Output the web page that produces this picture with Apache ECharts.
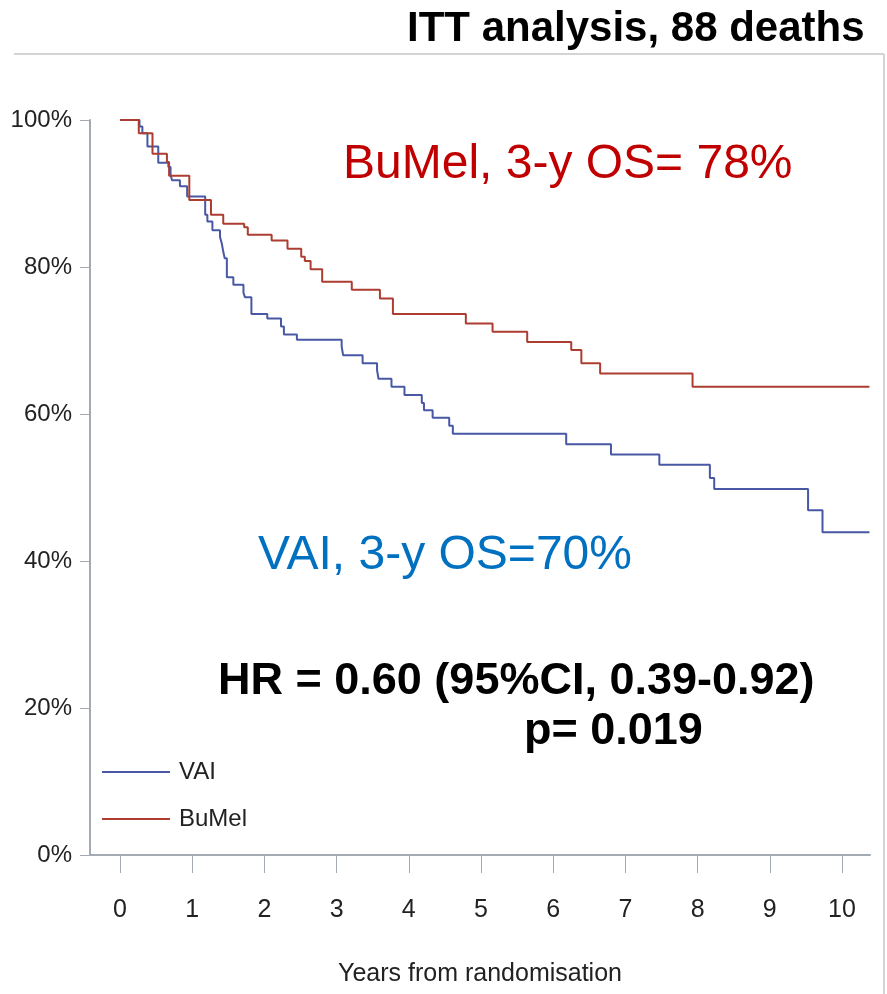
<!DOCTYPE html>
<html>
<head>
<meta charset="utf-8">
<script src="https://cdn.jsdelivr.net/npm/echarts@6/dist/echarts.min.js"></script>
<style>
html,body{margin:0;padding:0;background:#fff;}
#chart{width:887px;height:994px;}
</style>
</head>
<body>
<div id="chart"></div>
<script>
// Kaplan-Meier step data: [years, survival %] (value after each event)
const vaiTimes = [0, 0.27, 0.31, 0.38, 0.53, 0.67, 0.70, 0.72, 0.83, 0.93, 1.18, 1.21, 1.28, 1.385, 1.41, 1.43, 1.45, 1.48, 1.57, 1.71, 1.73, 1.82, 2.04, 2.23, 2.27, 2.45, 3.07, 3.09, 3.36, 3.56, 3.58, 3.76, 3.94, 4.18, 4.21, 4.33, 4.56, 4.61, 6.18, 6.80, 7.47, 8.17, 8.23, 9.53, 9.73, 10.38];
const vaiSurv  = [100, 99.1, 98.2, 96.4, 94.2, 93.6, 92.6, 91.8, 91.0, 89.6, 87.1, 86.2, 85.0, 84.1, 83.2, 82.1, 81.2, 78.6, 77.6, 76.5, 75.9, 73.6, 73.0, 71.9, 70.8, 70.1, 69.2, 68.0, 66.9, 66.0, 64.8, 63.7, 62.6, 61.5, 60.5, 59.5, 58.4, 57.3, 55.9, 54.5, 53.1, 51.3, 49.8, 46.9, 43.9, 43.9];

const bumelTimes = [0, 0.26, 0.45, 0.65, 0.68, 0.96, 1.26, 1.43, 1.72, 1.77, 2.10, 2.32, 2.51, 2.56, 2.64, 2.80, 3.21, 3.60, 3.78, 4.79, 5.16, 5.64, 6.25, 6.39, 6.65, 7.93, 10.38];
const bumelSurv  = [100, 98.2, 95.4, 94.3, 92.4, 89.1, 87.1, 85.9, 85.4, 84.4, 83.6, 82.5, 81.4, 80.8, 79.7, 78.0, 76.9, 75.7, 73.6, 72.3, 71.2, 69.8, 68.7, 66.9, 65.5, 63.7, 63.7];

const seriesNames = ['VAI', 'BuMel'];
const xTickValues = [0, 1, 2, 3, 4, 5, 6, 7, 8, 9, 10];
const xAxisTitle = 'Years from randomisation';
const titleText = 'ITT analysis, 88 deaths';
const bumelNote = 'BuMel, 3-y OS= 78%';
const vaiNote = 'VAI, 3-y OS=70%';
const hrNote = 'HR = 0.60 (95%CI, 0.39-0.92)';
const pNote = 'p= 0.019';

const zip = (a, b) => a.map((v, i) => [v, b[i]]);

const narrow = '"Liberation Sans Narrow", "Arial Narrow", "Liberation Sans", Arial, sans-serif';
const sans = '"Liberation Sans", Arial, sans-serif';
const axisGray = '#a3aab2';

const chart = echarts.init(document.getElementById('chart'), null, {renderer: 'canvas'});
chart.setOption({
  animation: false,
  backgroundColor: '#ffffff',
  grid: {left: 90, right: 17, top: 120, bottom: 139, containLabel: false, outerBoundsMode: 'none'},
  xAxis: {
    type: 'value',
    min: -30 / 72.2,
    max: 750 / 72.2,
    name: xAxisTitle,
    nameLocation: 'middle',
    nameGap: 107,
    nameTextStyle: {fontFamily: narrow, fontSize: 25, color: '#222'},
    axisLine: {show: true, onZero: false, lineStyle: {color: axisGray, width: 2}},
    axisTick: {show: true, length: 18, customValues: xTickValues, lineStyle: {color: axisGray, width: 1}},
    axisLabel: {customValues: xTickValues, margin: 43, fontFamily: narrow, fontSize: 25, color: '#222'},
    splitLine: {show: false}
  },
  yAxis: {
    type: 'value',
    min: 0,
    max: 100,
    interval: 20,
    axisLine: {show: true, onZero: false, lineStyle: {color: axisGray, width: 2}},
    axisTick: {show: true, length: 10, lineStyle: {color: axisGray, width: 1}},
    axisLabel: {formatter: v => v + '%', margin: 18, fontFamily: narrow, fontSize: 24, color: '#222'},
    splitLine: {show: false}
  },
  legend: {
    orient: 'vertical',
    left: 102,
    top: 760,
    padding: 0,
    itemWidth: 68,
    itemHeight: 2,
    itemGap: 23,
    icon: 'rect',
    data: seriesNames,
    textStyle: {fontFamily: narrow, fontSize: 24, color: '#222', padding: [0, 0, 0, 4]}
  },
  series: [
    {
      name: seriesNames[0],
      type: 'line',
      step: 'end',
      symbol: 'none',
      data: zip(vaiTimes, vaiSurv),
      lineStyle: {color: '#4858a4', width: 2},
      itemStyle: {color: '#4858a4'}
    },
    {
      name: seriesNames[1],
      type: 'line',
      step: 'end',
      symbol: 'none',
      data: zip(bumelTimes, bumelSurv),
      lineStyle: {color: '#ac3d30', width: 2},
      itemStyle: {color: '#ac3d30'}
    }
  ],
  graphic: [
    {type: 'line', shape: {x1: 14, y1: 54, x2: 884, y2: 54}, style: {stroke: '#d4d4d4', lineWidth: 2}, silent: true},
    {type: 'line', shape: {x1: 884, y1: 54, x2: 884, y2: 994}, style: {stroke: '#d4d4d4', lineWidth: 2}, silent: true},
    {type: 'text', left: 407, top: 8, style: {text: titleText, font: 'bold 42px ' + sans, fill: '#000'}},
    {type: 'text', left: 343, top: 141, style: {text: bumelNote, font: '48px ' + sans, fill: '#c00000'}},
    {type: 'text', left: 258, top: 532, style: {text: vaiNote, font: '48px ' + sans, fill: '#0070c0'}},
    {type: 'text', left: 218, top: 659, style: {text: hrNote, font: 'bold 45px ' + sans, fill: '#000'}},
    {type: 'text', left: 524, top: 709, style: {text: pNote, font: 'bold 45px ' + sans, fill: '#000'}}
  ]
});
</script>
</body>
</html>
